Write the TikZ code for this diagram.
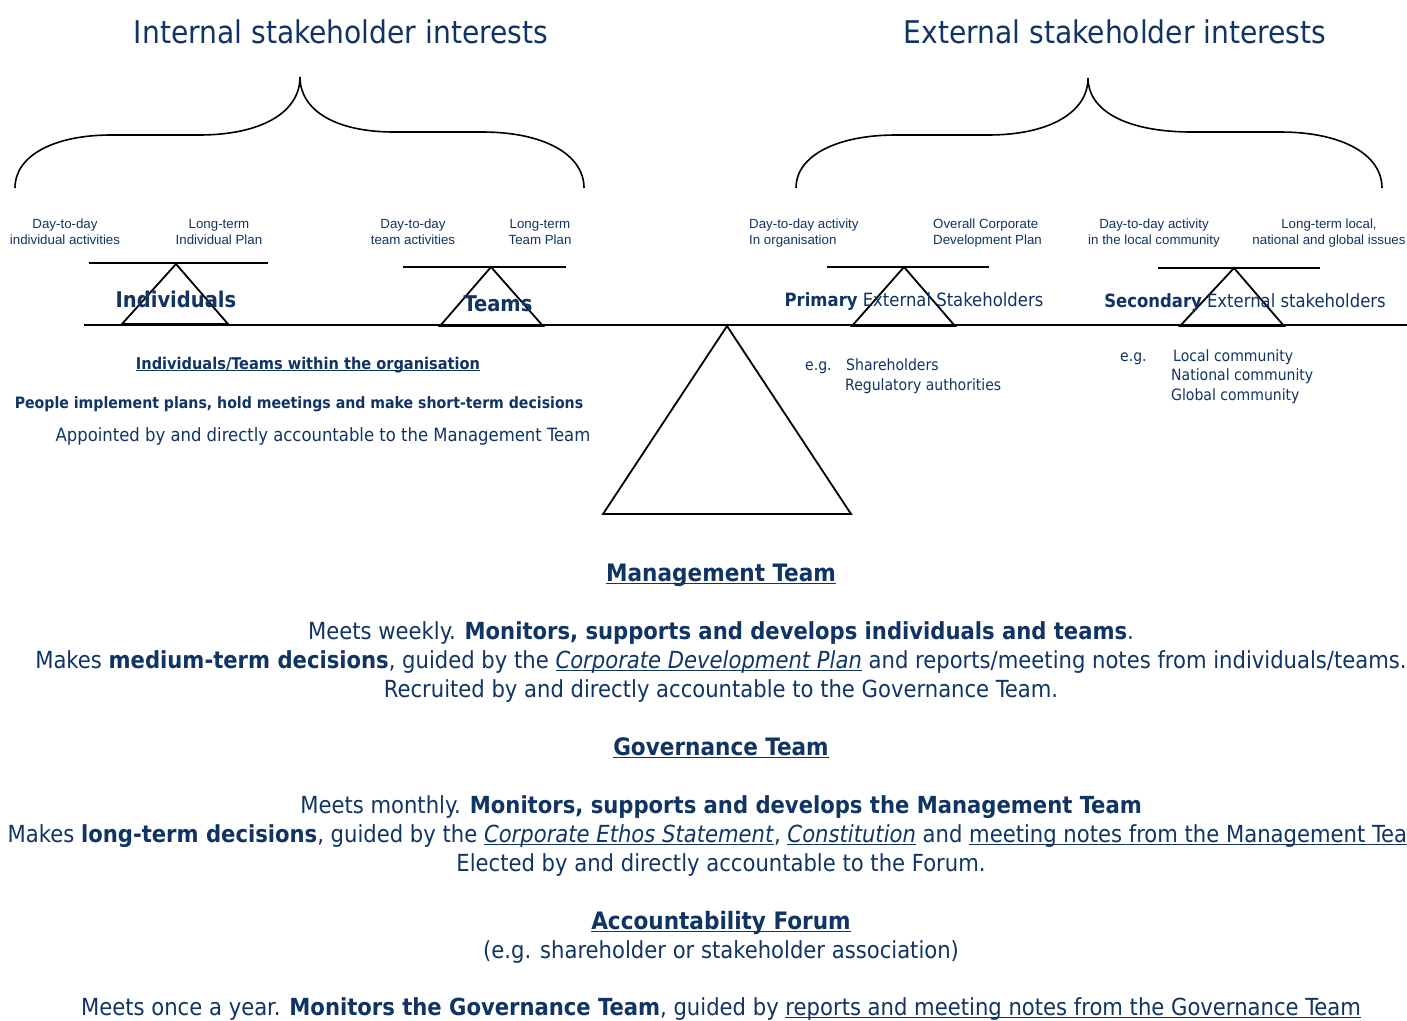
\documentclass[tikz,border=0pt]{standalone}
\usepackage{fontspec}
\setmainfont{DejaVu Sans Condensed}
\newfontfamily\arialf{Liberation Sans}
\definecolor{navy}{RGB}{16,52,100}
% underline sitting just below the baseline
\newcommand\ulx[1]{\setbox0\hbox{#1}\rlap{\rule[-0.14em]{\wd0}{0.075em}}\box0\relax}
\tikzset{
  txt/.style={text=navy, inner sep=0pt, anchor=base},
  ttl/.style={txt, font=\fontsize{31.3}{36}\selectfont},
  lbl/.style={txt, font=\arialf\fontsize{13.3}{16}\selectfont, align=center},
  beamlbl/.style={txt, font=\bfseries\fontsize{21.7}{25}\selectfont},
  mid/.style={txt, font=\fontsize{18.3}{21}\selectfont},
  small/.style={txt, font=\fontsize{15.6}{19}\selectfont, anchor=base west},
  midb/.style={txt, font=\bfseries\fontsize{16}{20}\selectfont},
  big/.style={txt, font=\fontsize{23.5}{28}\selectfont},
  bigh/.style={txt, font=\bfseries\fontsize{24}{28}\selectfont},
  brace/.style={draw=black, line width=1.6pt},
  bar/.style={draw=black, line width=1.8pt},
  fulcrum/.style={draw=black, line width=1.8pt, line join=miter},
}
\begin{document}
\begin{tikzpicture}[x=1pt,y=-1pt]
\useasboundingbox (0,0) rectangle (1407,1020);
\clip (0,0) rectangle (1407,1020);
\fill[white] (0,0) rectangle (1407,1020);

% headings
\node[ttl] (tin) at (341,43) {Internal stakeholder interests};
\node[ttl] (tex) at (1115,43) {External stakeholder interests};

% curly braces
\draw[brace] (15,188) .. controls (15,155) and (55,135) .. (111,135) -- (199,135)
  .. controls (262,135) and (300,112) .. (300,77);
\draw[brace] (300,77) .. controls (300,110) and (335,132) .. (394,132) -- (482,132)
  .. controls (545,132) and (584,155) .. (584,188);
\draw[brace] (796,188) .. controls (796,155) and (838,135) .. (896,135) -- (988,135)
  .. controls (1050,135) and (1088,112) .. (1088,78);
\draw[brace] (1088,78) .. controls (1088,110) and (1125,132) .. (1192,132) -- (1280,132)
  .. controls (1343,132) and (1382,155) .. (1382,188);

% small labels over the beams (anchored on the second line)
\node[lbl] (l1) at (65,244) {Day-to-day\\individual activities};
\node[lbl] (l2) at (219,244) {Long-term\\Individual Plan};
\node[lbl] (l3) at (413,244) {Day-to-day\\team activities};
\node[lbl] (l4) at (540,244) {Long-term\\Team Plan};
\node[lbl, align=left, anchor=base west] (l5) at (749,244) {Day-to-day activity\\In organisation};
\node[lbl, align=left, anchor=base west] (l6) at (933,244) {Overall Corporate\\Development Plan};
\node[lbl] (l7) at (1154,244) {Day-to-day activity\\in the local community};
\node[lbl] (l8) at (1329,244) {Long-term local,\\national and global issues};

% ground line and main fulcrum
\draw[bar] (84,325) -- (1407,325);
\draw[fulcrum] (727,326) -- (851,514) -- (603,514) -- cycle;

% small balances
\draw[bar] (89,263) -- (268,263);
\draw[fulcrum] (176,264) -- (228,324) -- (122,324) -- cycle;
\draw[bar] (403,267) -- (566,267);
\draw[fulcrum] (491,267) -- (543,326) -- (440,326) -- cycle;
\draw[bar] (827,267) -- (989,267);
\draw[fulcrum] (904,267) -- (955,326) -- (852,326) -- cycle;
\draw[bar] (1158,268) -- (1320,268);
\draw[fulcrum] (1234,268) -- (1284,326) -- (1180,326) -- cycle;

% beam names
\node[beamlbl] (ind) at (176,307) {Individuals};
\node[beamlbl] (tms) at (498,311) {Teams};
\node[mid] (pri) at (914,306) {\textbf{Primary} External Stakeholders};
\node[mid] (sec) at (1245,307) {\textbf{Secondary} External stakeholders};

% internal notes
\node[midb, font=\bfseries\fontsize{16.2}{20}\selectfont] (it) at (308,369) {\ulx{Individuals/Teams within the organisation}};
\node[midb, font=\bfseries\fontsize{15.7}{20}\selectfont] (pp) at (299,408) {People implement plans, hold meetings and make short-term decisions};
\node[mid] (ap) at (323,441) {Appointed by and directly accountable to the Management Team};

% external examples
\node[small] (eg1) at (805,370) {e.g.};
\node[small] (sh) at (846,370) {Shareholders};
\node[small] (ra) at (845,390) {Regulatory authorities};
\node[small] (eg2) at (1120,361) {e.g.};
\node[small] (lc) at (1173,361) {Local community};
\node[small] (nc) at (1171,380) {National community};
\node[small] (gc) at (1171,400) {Global community};

% management team
\node[bigh] (mt) at (721,581) {\ulx{Management Team}};
\node[big] (mt1) at (721,639) {Meets weekly. \textbf{Monitors, supports and develops individuals and teams}.};
\node[big] (mt2) at (721,668) {Makes \textbf{medium-term decisions}, guided by the \ulx{\textit{Corporate Development Plan}} and reports/meeting notes from individuals/teams.};
\node[big] (mt3) at (721,697) {Recruited by and directly accountable to the Governance Team.};

% governance team
\node[bigh] (gt) at (721,755) {\ulx{Governance Team}};
\node[big] (gt1) at (721,813) {Meets monthly. \textbf{Monitors, supports and develops the Management Team}};
\node[big] (gt2) at (721,842) {Makes \textbf{long-term decisions}, guided by the \ulx{\textit{Corporate Ethos Statement}}, \ulx{\textit{Constitution}} and \ulx{meeting notes from the Management Team}.};
\node[big] (gt3) at (721,871) {Elected by and directly accountable to the Forum.};

% forum
\node[bigh] (af) at (721,929) {\ulx{Accountability Forum}};
\node[big] (af1) at (721,958) {(e.g. shareholder or stakeholder association)};
\node[big] (af2) at (721,1015) {Meets once a year. \textbf{Monitors the Governance Team}, guided by \ulx{reports and meeting notes from the Governance Team}};
\end{tikzpicture}
\end{document}
